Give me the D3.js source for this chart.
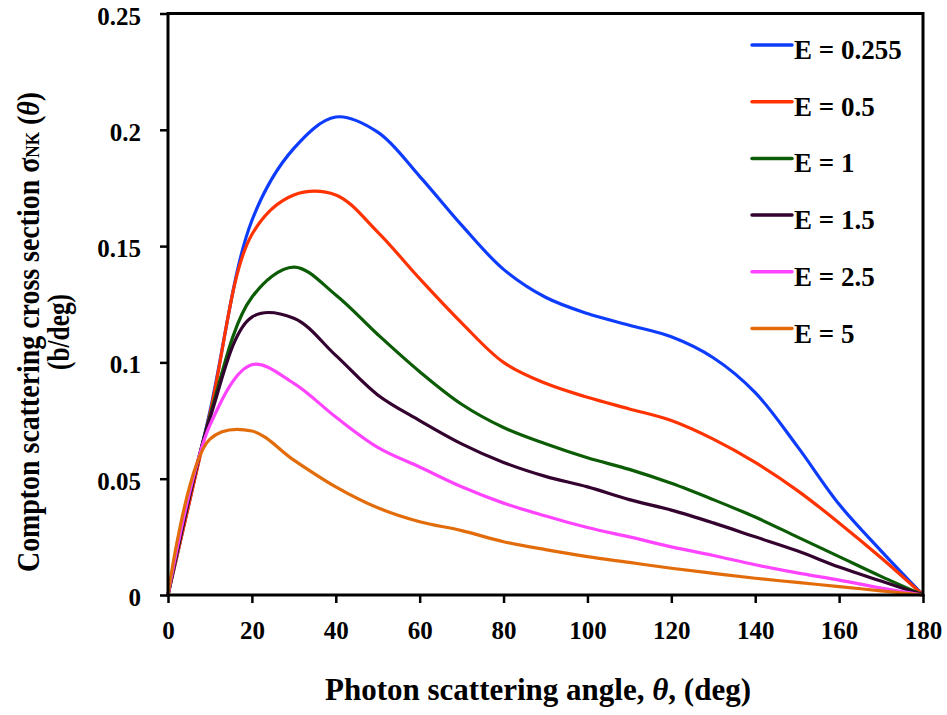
<!DOCTYPE html>
<html>
<head>
<meta charset="utf-8">
<script src="https://cdn.jsdelivr.net/npm/d3@7"></script>
<style>
  html, body { margin: 0; padding: 0; background: #fff; }
  svg { display: block; }
  text { font-family: "Liberation Serif", "Times New Roman", "DejaVu Serif", serif; font-weight: bold; fill: #000; }
</style>
</head>
<body>
<svg id="chart" width="947" height="715"></svg>
<script>
// Scattering angle grid (deg)
const angles = [0, 10, 20, 30, 40, 50, 60, 70, 80, 90, 100, 110, 120, 130, 140, 150, 160, 170, 180];

// Klein–Nishina differential cross section per degree (b/deg) for each photon energy (MeV)
const sigmaE0255 = [0, 0.079, 0.161, 0.192, 0.2055, 0.199, 0.180, 0.159, 0.140, 0.128, 0.121, 0.116, 0.111, 0.102, 0.087, 0.064, 0.039, 0.019, 0];
const sigmaE05   = [0, 0.078, 0.155, 0.172, 0.172, 0.156, 0.136, 0.117, 0.100, 0.091, 0.085, 0.080, 0.075, 0.067, 0.057, 0.045, 0.031, 0.016, 0];
const sigmaE1    = [0, 0.077, 0.128, 0.141, 0.129, 0.112, 0.096, 0.082, 0.072, 0.065, 0.059, 0.054, 0.048, 0.041, 0.0335, 0.025, 0.0165, 0.008, 0];
const sigmaE15   = [0, 0.076, 0.1195, 0.119, 0.103, 0.086, 0.075, 0.065, 0.057, 0.051, 0.0465, 0.041, 0.0365, 0.031, 0.025, 0.019, 0.012, 0.006, 0];
const sigmaE25   = [0, 0.073, 0.099, 0.091, 0.0765, 0.0635, 0.055, 0.0465, 0.0395, 0.034, 0.029, 0.025, 0.0207, 0.017, 0.013, 0.0095, 0.0064, 0.003, 0];
const sigmaE5    = [0, 0.067, 0.0705, 0.058, 0.0465, 0.0375, 0.0315, 0.0277, 0.0229, 0.0195, 0.0165, 0.014, 0.0115, 0.0093, 0.0072, 0.0054, 0.0036, 0.0018, 0];

const seriesNames  = ["E = 0.255", "E = 0.5", "E = 1", "E = 1.5", "E = 2.5", "E = 5"];
const seriesValues = [sigmaE0255, sigmaE05, sigmaE1, sigmaE15, sigmaE25, sigmaE5];
const seriesColors = ["#0d3cff", "#ff3300", "#0c5c06", "#33022f", "#ff44ff", "#e36c0a"];

const xTicks = [0, 20, 40, 60, 80, 100, 120, 140, 160, 180];
const yTicks = [0, 0.05, 0.1, 0.15, 0.2, 0.25];

const svg = d3.select("#chart");
svg.append("rect").attr("width", 947).attr("height", 715).attr("fill", "#fff");

const plot = { left: 168, right: 923, top: 13.5, bottom: 595 };

const x = d3.scaleLinear().domain([0, 180]).range([plot.left, plot.right]);
const y = d3.scaleLinear().domain([0, 0.25]).range([plot.bottom, plot.top]);

// Smoothed curves through the tabulated points
const line = d3.line()
  .x(d => x(d[0]))
  .y(d => y(d[1]))
  .curve(d3.curveCatmullRom.alpha(0.5));

const curves = svg.append("g");
seriesValues.forEach((vals, i) => {
  curves.append("path")
    .datum(angles.map((a, k) => [a, vals[k]]))
    .attr("d", line)
    .attr("fill", "none")
    .attr("stroke", seriesColors[i])
    .attr("stroke-width", 3.2)
    .attr("stroke-linejoin", "round")
    .attr("stroke-linecap", "round");
});

// Axes
const xAxis = d3.axisBottom(x).tickValues(xTicks).tickSize(8).tickPadding(18).tickFormat(d3.format("d"));
const yAxis = d3.axisLeft(y).tickValues(yTicks).tickSize(8).tickPadding(19).tickFormat(d => d === 0 ? "0" : String(d));

const gx = svg.append("g").attr("transform", `translate(0,${plot.bottom})`).call(xAxis);
const gy = svg.append("g").attr("transform", `translate(${plot.left},0)`).call(yAxis);
[gx, gy].forEach(g => {
  g.attr("font-family", null).attr("font-size", null);
  g.select(".domain").remove();
  g.selectAll(".tick line").attr("stroke", "#000").attr("stroke-width", 2.5);
  g.selectAll(".tick text").style("font-size", "25px").attr("fill", "#000");
});
gx.selectAll(".tick text").attr("dy", "0.71em");
gy.selectAll(".tick text").attr("dy", "0.42em");

// Frame
svg.append("rect")
  .attr("x", plot.left).attr("y", plot.top)
  .attr("width", plot.right - plot.left).attr("height", plot.bottom - plot.top)
  .attr("fill", "none").attr("stroke", "#000").attr("stroke-width", 3);

// Legend
const legend = svg.append("g");
seriesNames.forEach((name, i) => {
  const ly = 45 + i * 56.7;
  legend.append("line")
    .attr("x1", 752).attr("x2", 792).attr("y1", ly).attr("y2", ly)
    .attr("stroke", seriesColors[i]).attr("stroke-width", 3.5).attr("stroke-linecap", "round");
  legend.append("text")
    .attr("x", 794).attr("y", ly + 14)
    .style("font-size", "27px")
    .text(name);
});

// Axis titles
svg.append("text")
  .attr("x", 538).attr("y", 700)
  .attr("text-anchor", "middle")
  .style("font-size", "31px")
  .call(t => {
    t.append("tspan").text("Photon scattering angle, ");
    t.append("tspan").style("font-style", "italic").text("θ");
    t.append("tspan").text(", (deg)");
  });

const yTitle = svg.append("g").attr("transform", "translate(39,332) rotate(-90)");
yTitle.append("text")
  .attr("x", 0).attr("y", 0)
  .attr("text-anchor", "middle")
  .attr("textLength", 480)
  .attr("lengthAdjust", "spacingAndGlyphs")
  .style("font-size", "31px")
  .call(t => {
    t.append("tspan").text("Compton scattering cross section σ");
    t.append("tspan").style("font-size", "19px").text("NK");
    t.append("tspan").text(" (");
    t.append("tspan").style("font-style", "italic").text("θ");
    t.append("tspan").text(")");
  });
yTitle.append("text")
  .attr("x", 0).attr("y", 30)
  .attr("text-anchor", "middle")
  .attr("textLength", 76)
  .attr("lengthAdjust", "spacingAndGlyphs")
  .style("font-size", "31px")
  .text("(b/deg)");
</script>
</body>
</html>
